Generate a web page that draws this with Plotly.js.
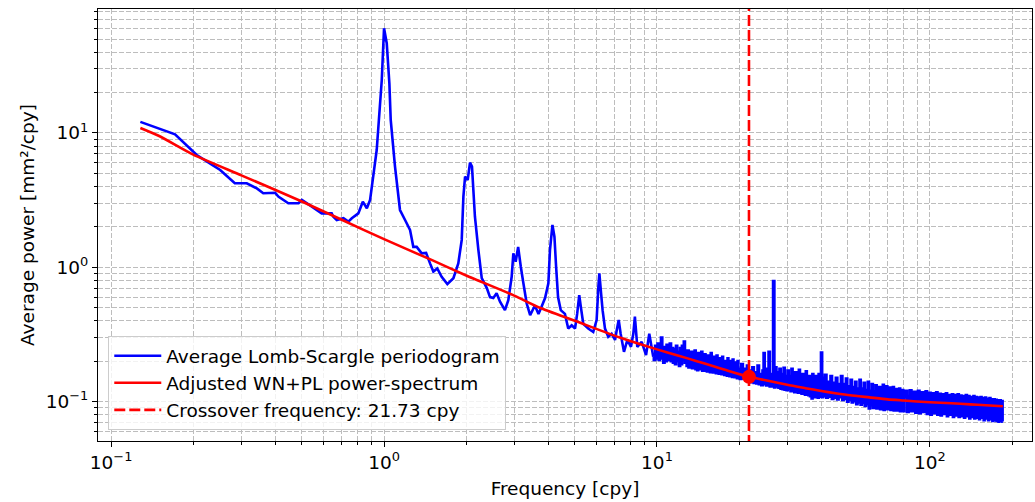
<!DOCTYPE html>
<html><head><meta charset="utf-8">
<script src="https://cdn.plot.ly/plotly-3.0.1.min.js"></script>
<style>html,body{margin:0;padding:0;background:#fff}#chart{width:1035px;height:502px}</style>
</head><body><div id="chart"></div>
<script>
// Average Lomb-Scargle periodogram, low-frequency part: frequency [cpy]
const lsFreqLow = [
0.128,0.1715,0.206,0.237,0.251,0.284,0.314,0.342,0.361,0.399,0.410,0.446,0.486,0.500,0.544,0.591,0.643,0.652,0.671,0.710,0.740,0.762,0.805,0.836,0.865,0.889,0.940,0.981,1.0,
1.023,1.046,1.058,1.097,1.144,1.194,1.245,1.28,1.317,1.374,1.426,1.474,1.516,1.567,1.626,1.706,1.795,1.871,1.926,
1.953,1.981,2.025,2.065,2.1,2.153,2.216,2.28,2.38,2.445,2.514,2.585,2.66,2.773,2.853,2.935,2.977,3.036,3.1,3.17,3.24,3.33,3.43,3.57,3.68,3.78,3.89,
4.0,4.055,4.14,4.21,4.27,4.34,4.44,4.6,4.73,4.87,5.01,5.1,5.19,5.27,5.37,5.6,5.84,6.01,6.1,6.15,6.24,6.32,6.45,6.63,6.82,7.02,7.12,7.24,7.36,7.57,7.79,8.03,8.19,8.3,8.47,8.79,9.12,9.37,9.69
];
// Average Lomb-Scargle periodogram, low-frequency part: power [mm²/cpy]
const lsPowerLow = [
12.1,9.78,6.86,5.71,5.3,4.22,4.22,3.87,3.56,3.59,3.36,3.0,3.0,3.17,2.83,2.52,2.52,2.38,2.25,2.32,2.19,2.32,2.52,3.08,2.75,3.17,7.47,24.8,60.2,
46.6,23.4,12.5,5.61,2.67,2.25,1.9,1.42,1.42,1.27,1.28,1.07,0.93,0.98,0.85,0.75,0.83,1.07,1.6,
3.36,4.73,4.47,6.01,5.61,2.38,1.35,0.83,0.70,0.60,0.59,0.64,0.555,0.48,0.57,0.85,1.27,1.1,1.42,1.01,0.76,0.54,0.44,0.52,0.45,0.51,0.59,
0.76,1.35,2.07,1.69,1.01,0.60,0.48,0.45,0.35,0.37,0.35,0.45,0.62,0.495,0.38,0.35,0.33,0.405,0.72,0.90,0.64,0.48,0.35,0.304,0.32,0.288,0.34,0.405,0.32,0.235,0.288,0.256,0.32,0.43,0.256,0.279,0.222,0.32,0.216
];
// Average Lomb-Scargle periodogram, noisy high-frequency part: frequency [cpy]
const lsFreqHigh = [
9.8,9.9,10.0,10.1,10.2,10.3,10.4,10.5,10.6,10.7,
10.8,10.9,11.0,11.1,11.2,11.3,11.4,11.5,11.6,11.7,
11.8,11.9,12.0,12.1,12.2,12.3,12.4,12.5,12.6,12.7,
12.8,12.9,13.0,13.1,13.2,13.3,13.4,13.5,13.6,13.7,
13.8,13.9,14.0,14.1,14.2,14.3,14.4,14.5,14.6,14.7,
14.8,14.9,15.0,15.1,15.2,15.3,15.4,15.5,15.6,15.7,
15.8,15.9,16.0,16.1,16.2,16.3,16.4,16.5,16.6,16.7,
16.8,16.9,17.0,17.1,17.2,17.3,17.4,17.5,17.6,17.7,
17.8,17.9,18.0,18.1,18.2,18.3,18.4,18.5,18.6,18.7,
18.8,18.9,19.0,19.1,19.2,19.3,19.4,19.5,19.6,19.7,
19.8,19.9,20.0,
20.25,20.5,20.75,21.0,21.25,21.5,21.75,22.0,22.25,22.5,
22.75,23.0,23.25,23.5,23.75,24.0,24.25,24.5,24.7,24.9,
25.0,25.25,25.5,25.8,26.0,26.25,26.5,26.8,27.0,27.25,
27.5,27.75,28.0,28.25,28.5,28.75,29.0,29.25,29.5,29.75,
30.0,30.25,30.5,30.75,31.0,31.25,31.5,31.75,32.0,32.25,
32.5,32.75,33.0,33.25,33.5,33.75,34.0,34.25,34.5,34.75,
35.0,35.25,35.5,35.75,36.0,36.25,36.5,36.75,37.0,37.25,
37.5,37.75,38.0,38.25,38.5,38.75,39.0,39.25,39.5,39.75,
40.1,40.4,
40.75,41.0,41.5,42.0,42.5,43.0,43.5,44.0,44.5,45.0,
45.5,46.0,46.5,47.0,47.5,48.0,48.5,49.0,49.5,50.0,
50.5,51.0,51.5,52.0,52.5,53.0,53.5,54.0,54.5,55.0,
55.5,56.0,56.5,57.0,57.5,58.0,58.5,59.0,59.5,60.0,
60.5,61.0,61.5,62.0,62.5,63.0,63.5,64.0,64.5,65.0,
65.5,66.0,66.5,67.0,67.5,68.0,68.5,69.0,69.5,70.0,
70.5,71.0,71.5,72.0,72.5,73.0,73.5,74.0,74.5,75.0,
75.5,76.0,76.5,77.0,77.5,78.0,78.5,79.0,79.5,80.0,
81,82,83,84,85,86,87,88,89,90,
91,92,93,94,95,96,97,98,99,100,
101,102,103,104,105,106,107,108,109,110,
111,112,113,114,115,116,117,118,119,120,
121,122,123,124,125,126,127,128,129,130,
131,132,133,134,135,136,137,138,139,140,
141,142,143,144,145,146,147,148,149,150,
151,152,153,154,155,156,157,158,159,160,
161,162,163,164,165,166,167,168,169,170,
171,172,173,174,175,176,177,178,179,180,
181,182,183,184,185
];
// Average Lomb-Scargle periodogram, noisy high-frequency part: power [mm²/cpy]
const lsPowerHigh = [
.205,.26,.21,.27,.205,.25,.30,.21,.195,.255,
.2,.265,.205,.24,.27,.2,.25,.195,.245,.19,
.26,.2,.235,.185,.25,.19,.26,.205,.28,.195,
.225,.185,.24,.18,.225,.185,.235,.178,.215,.18,
.24,.175,.22,.172,.23,.18,.215,.175,.235,.17,
.21,.176,.225,.17,.205,.168,.22,.172,.2,.166,
.23,.17,.205,.165,.215,.168,.2,.163,.22,.167,
.195,.162,.21,.165,.19,.16,.215,.163,.195,.158,
.2,.162,.185,.156,.21,.16,.19,.155,.2,.158,
.18,.153,.205,.157,.185,.152,.195,.155,.178,.15,
.2,.153,.175,
.148,.19,.15,.175,.145,.185,.142,.17,.14,.18,
.138,.165,.137,.185,.135,.16,.133,.17,.23,.135,
.165,.132,.175,.235,.13,.16,.13,.79,.128,.18,
.13,.165,.127,.175,.125,.16,.124,.178,.123,.155,
.122,.17,.125,.155,.12,.175,.122,.15,.118,.165,
.12,.15,.117,.172,.118,.148,.115,.16,.116,.145,
.113,.168,.115,.145,.112,.155,.11,.14,.106,.16,
.11,.14,.108,.155,.11,.138,.107,.16,.109,.14,
.232,.108,
.15,.11,.158,.107,.14,.109,.155,.105,.138,.107,
.15,.104,.135,.108,.155,.103,.135,.105,.148,.1,
.13,.103,.145,.099,.128,.101,.14,.096,.125,.099,
.145,.095,.125,.098,.138,.093,.122,.096,.14,.089,
.12,.094,.135,.09,.118,.093,.132,.089,.117,.092,
.128,.088,.115,.091,.133,.087,.115,.09,.13,.088,
.113,.09,.127,.087,.112,.089,.128,.086,.11,.088,
.124,.086,.11,.088,.125,.085,.108,.087,.122,.085,
.108,.12,.084,.11,.121,.085,.106,.118,.083,.108,
.12,.082,.105,.117,.084,.104,.119,.081,.106,.116,
.08,.103,.115,.082,.1,.117,.08,.104,.114,.079,
.1,.113,.081,.103,.115,.078,.099,.112,.08,.102,
.113,.077,.098,.112,.079,.1,.113,.077,.097,.111,
.078,.1,.11,.076,.096,.112,.078,.099,.11,.075,
.097,.108,.077,.095,.11,.075,.098,.108,.076,.094,
.107,.074,.096,.108,.076,.093,.106,.073,.095,.107,
.075,.092,.105,.073,.094,.106,.074,.091,.104,.072,
.093,.104,.073,.09,.103,.072,.092,.102,.071,.09,
.102,.072,.091,.101,.071
];
// Adjusted WN+PL power-spectrum
const fitFreq = [0.128,0.15,0.2,0.3,0.5,0.7,1,1.5,2,3,3.72,5,7.3,10,12,14,16,18,21.73,25,30,35,40,45,51,60,70,80,100,120,140,160,185];
const fitPower = [10.9,9.5,6.9,4.84,3.09,2.26,1.62,1.13,0.87,0.616,0.5,0.40,0.30,0.245,0.22,0.2,0.184,0.171,0.153,0.1445,0.1335,0.126,0.12,0.1156,0.1115,0.1076,0.104,0.102,0.0989,0.0973,0.0955,0.094,0.0925];
// Crossover
const crossoverFreq = 21.73;
const crossoverPower = 0.153;
const legendNames = ['Average Lomb-Scargle periodogram','Adjusted WN+PL power-spectrum','Crossover frequency: 21.73 cpy'];
// Axis ticks
const xTickVals = [0.1,1,10,100];
const xTickText = ['10<sup>\u22121</sup>','10<sup>0</sup>','10<sup>1</sup>','10<sup>2</sup>'];
const yTickVals = [0.1,1,10];
const yTickText = ['10<sup>\u22121</sup>','10<sup>0</sup>','10<sup>1</sup>'];

// the dense noisy part continues from the last low-frequency sample
const nLow = lsFreqLow.length;
const hiX = [lsFreqLow[nLow - 1]].concat(lsFreqHigh);
const hiY = [lsPowerLow[nLow - 1]].concat(lsPowerHigh);

function minorVals(lo, hi){
  const out = [];
  for (let e = lo; e <= hi; e++) for (let m = 2; m <= 9; m++) out.push(m * Math.pow(10, e));
  return out;
}

const FONT = 'DejaVu Sans, sans-serif';
const FS = 18.5;
const gridColor = '#bdbdbd';
const gridDash = '5px,2px';

const traces = [
  {x: lsFreqLow, y: lsPowerLow, type:'scatter', mode:'lines', name: legendNames[0], legendgroup:'ls',
   line:{color:'#0000ff', width:2.6, simplify:false}},
  {x: hiX, y: hiY, type:'scatter', mode:'lines', name: legendNames[0], legendgroup:'ls', showlegend:false,
   line:{color:'#0000ff', width:2.8, simplify:false, shape:'hvh'}},
  {x: fitFreq, y: fitPower, type:'scatter', mode:'lines', name: legendNames[1],
   line:{color:'#ff0000', width:2.6, shape:'spline', smoothing:0.6}},
  {x: [crossoverFreq, crossoverFreq], y: [0.01, 1000], type:'scatter', mode:'lines', name: legendNames[2],
   line:{color:'#ff0000', width:2.6, dash:'11px,4px'}},
  {x: [crossoverFreq], y: [crossoverPower], type:'scatter', mode:'markers', showlegend:false,
   marker:{color:'#ff0000', size:14}}
];

const axisCommon = {
  type:'log', tickmode:'array', ticks:'outside', ticklen:5, tickwidth:1, tickcolor:'#000',
  showline:true, linecolor:'#000', linewidth:1, mirror:true,
  showgrid:true, gridcolor:gridColor, gridwidth:1, griddash:gridDash, zeroline:false,
  tickfont:{family:FONT, size:FS, color:'#000'}, automargin:false
};

const layout = {
  width:1035, height:502,
  margin:{l:98, r:3, t:9, b:61},
  paper_bgcolor:'#fff', plot_bgcolor:'#fff',
  hovermode:false,
  xaxis: Object.assign({}, axisCommon, {
    range:[-1.048, 2.374], tickvals:xTickVals, ticktext:xTickText,
    title:{text:'Frequency [cpy]', font:{family:FONT, size:FS, color:'#000'}, standoff:9},
    minor:{tickmode:'array', tickvals:minorVals(-1, 2).filter(v => v < 230), ticks:'outside', ticklen:3, tickcolor:'#000',
           showgrid:true, gridcolor:gridColor, gridwidth:1, griddash:gridDash}
  }),
  yaxis: Object.assign({}, axisCommon, {
    range:[-1.293, 1.923], tickvals:yTickVals, ticktext:yTickText,
    title:{text:'Average power [mm\u00b2/cpy]', font:{family:FONT, size:FS, color:'#000'}, standoff:6},
    minor:{tickmode:'array', tickvals:minorVals(-2, 1).filter(v => v > 0.05 && v < 90), ticks:'outside', ticklen:3, tickcolor:'#000',
           showgrid:true, gridcolor:gridColor, gridwidth:1, griddash:gridDash}
  }),
  showlegend:true,
  legend:{x:0.011, y:0.025, xanchor:'left', yanchor:'bottom',
          bgcolor:'rgba(255,255,255,0.8)', bordercolor:'#cccccc', borderwidth:1,
          font:{family:FONT, size:FS, color:'#000'}, itemwidth:47, tracegroupgap:0}
};

Plotly.newPlot('chart', traces, layout, {displayModeBar:false, staticPlot:true});
</script>
</body></html>
